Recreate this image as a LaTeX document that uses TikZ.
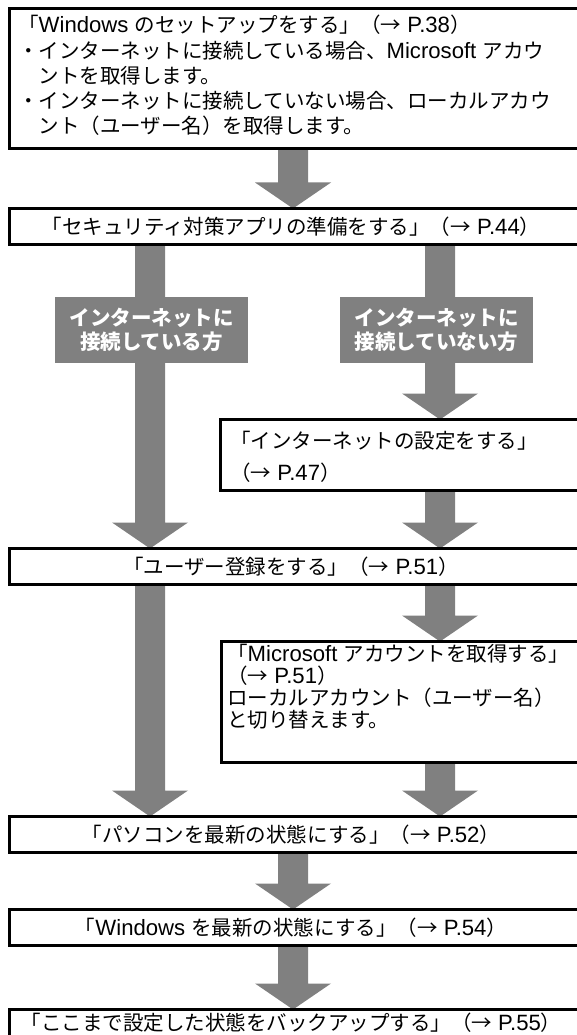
\documentclass[tikz,border=0pt]{standalone}
\usepackage{fontspec}
\setmainfont{Noto Sans CJK JP}
\newfontfamily\latf[Scale=1.08]{Liberation Sans}
\newcommand\latn[1]{{\latf #1}}
\usetikzlibrary{calc}
\definecolor{arrgray}{RGB}{128,128,128}
\tikzset{
  box/.style={draw=none, fill=none, inner sep=0pt, outer sep=0pt, anchor=north west},
  txt/.style={inner sep=0pt, font=\fontsize{20.5}{25.3}\selectfont, text=black},
  lbl/.style={fill=arrgray, inner sep=0pt, minimum width=193pt, minimum height=66pt, text=white,
    align=center, font=\fontsize{20.5}{24}\selectfont\bfseries},
  fat/.style={to path={let \p1=(\tikztostart), \p2=(\tikztotarget) in
    (\x1-15pt,\y1) -- (\x1+15pt,\y1) -- (\x1+15pt,\y2+26pt) -- (\x1+38pt,\y2+26pt)
    -- (\x1,\y2) -- (\x1-38pt,\y2+26pt) -- (\x1-15pt,\y2+26pt) -- cycle}},
}
\begin{document}
\begin{tikzpicture}[x=1pt,y=1pt]
\useasboundingbox (0,0) rectangle (577,-1035);
\clip (0,0) rectangle (577,-1035);
\coordinate (cx) at (293,0);
\coordinate (lx) at (150,0);
\coordinate (rx) at (440,0);
% box geometry
\node[box, minimum width=590pt, minimum height=140pt] (b1) at (9.5,-8.5) {};
\node[box, minimum width=590pt, minimum height=36pt] (b2) at (9.5,-208.5) {};
\node[box, minimum width=380pt, minimum height=71pt] (b3) at (220.5,-419.5) {};
\node[box, minimum width=590pt, minimum height=36pt] (b4) at (9.5,-548.5) {};
\node[box, minimum width=380pt, minimum height=121pt] (b5) at (221.5,-641.5) {};
\node[box, minimum width=590pt, minimum height=36pt] (b6) at (9.5,-816.5) {};
\node[box, minimum width=590pt, minimum height=36pt] (b7) at (9.5,-909.5) {};
\node[box, minimum width=590pt, minimum height=60pt] (b8) at (9.5,-1009.5) {};
% connectors
\fill[arrgray] (b1.south -| cx) to[fat] (b2.north -| cx);
\fill[arrgray] (b2.south -| lx) to[fat] (b4.north -| lx);
\fill[arrgray] (b2.south -| rx) to[fat] (b3.north -| rx);
\fill[arrgray] (b3.south -| rx) to[fat] (b4.north -| rx);
\fill[arrgray] (b4.south -| lx) to[fat] (b6.north -| lx);
\fill[arrgray] (b4.south -| rx) to[fat] (b5.north -| rx);
\fill[arrgray] (b5.south -| rx) to[fat] (b6.north -| rx);
\fill[arrgray] (b6.south -| cx) to[fat] (b7.north -| cx);
\fill[arrgray] (b7.south -| cx) to[fat] (b8.north -| cx);
% visible boxes
\foreach \b in {b1,b2,b3,b4,b5,b6,b7,b8}
  \draw[line width=3.2pt, fill=white] (\b.north west) rectangle (\b.south east);
% labels on the branches
\node[lbl] (l1) at (151.5,-330) {インターネットに\\接続している方};
\node[lbl] (l2) at (436.5,-330) {インターネットに\\接続していない方};
% texts
\node[txt, anchor=north west, align=left] (t1) at (18,-15) {「\latn{Windows }のセットアップをする」（→\latn{ P.38}）\\
・インターネットに接続している場合、\latn{Microsoft }アカウ\\
\hspace*{1em}ントを取得します。\\
・インターネットに接続していない場合、ローカルアカウ\\
\hspace*{1em}ント（ユーザー名）を取得します。};
\node[txt] (t2) at (291,-226.5) {「セキュリティ対策アプリの準備をする」（→\latn{ P.44}）};
\node[txt, anchor=north west, align=left, font=\fontsize{20.5}{32}\selectfont] (t3) at (230,-431) {「インターネットの設定をする」\\（→\latn{ P.47}）};
\node[txt] (t4) at (291,-566.5) {「ユーザー登録をする」（→\latn{ P.51}）};
\node[txt, anchor=north west, align=left, font=\fontsize{20.5}{22}\selectfont] (t5) at (227,-644) {「\latn{Microsoft }アカウントを取得する」\\
（→\latn{ P.51}）\\
ローカルアカウント（ユーザー名）\\
と切り替えます。};
\node[txt] (t6) at (291,-834.5) {「パソコンを最新の状態にする」（→\latn{ P.52}）};
\node[txt] (t7) at (291,-927.5) {「\latn{Windows }を最新の状態にする」（→\latn{ P.54}）};
\node[txt] (t8) at (291,-1023) {「ここまで設定した状態をバックアップする」（→\latn{ P.55}）};
\end{tikzpicture}
\end{document}
